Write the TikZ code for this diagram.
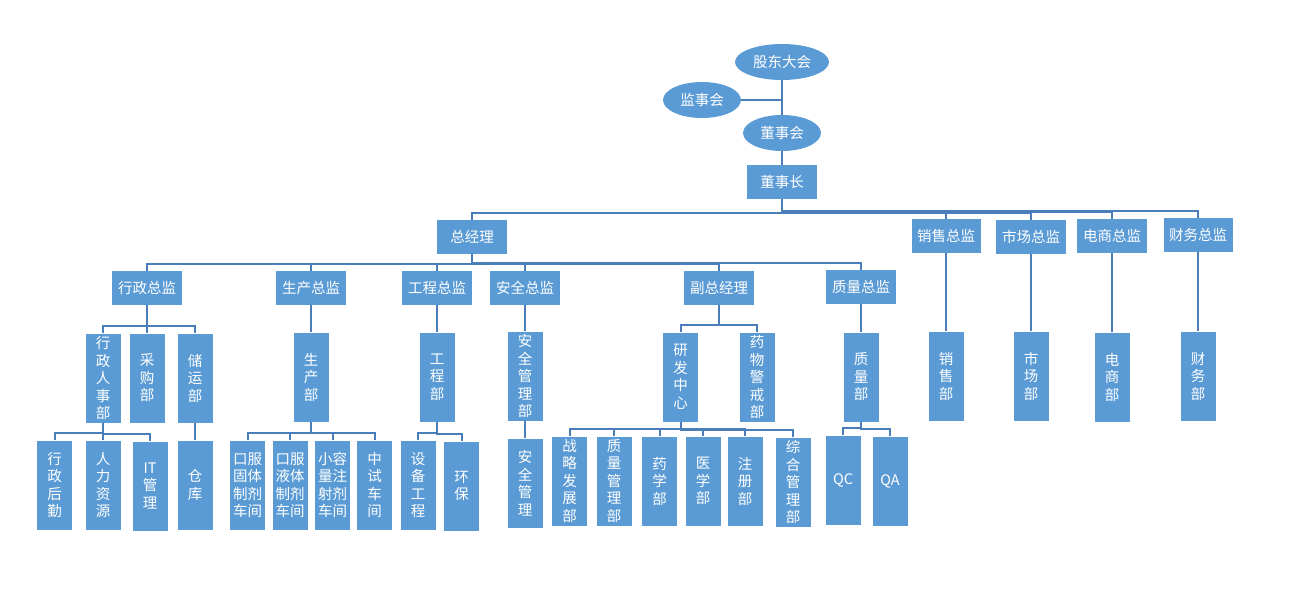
\documentclass[tikz,border=0pt]{standalone}
\usepackage{fontspec}
\newfontfamily\cjk{Noto Sans CJK SC}
\usetikzlibrary{shapes.geometric}
\definecolor{BoxClr}{RGB}{91,155,213}
\definecolor{LineClr}{RGB}{74,126,187}

\begin{document}
\begin{tikzpicture}[x=1pt,y=-1pt,
  Ell/.style={ellipse,fill=BoxClr,text=white,inner sep=0pt,minimum height=36pt,font=\cjk\fontsize{14.5}{17.5}\selectfont},
  Head/.style={rectangle,fill=BoxClr,text=white,inner sep=0pt,minimum width=70pt,minimum height=34pt,font=\cjk\fontsize{14.5}{17.5}\selectfont},
  Col/.style={Head,minimum width=35pt,minimum height=89pt,align=center},
  Link/.style={draw=LineClr,line width=2pt}]
\useasboundingbox (0,0) rectangle (1292,592);

\node[Ell,minimum width=94pt] (GDDH) at (782,62) {股东大会};
\node[Ell,minimum width=78pt] (JSH) at (702,100) {监事会};
\node[Ell,minimum width=78pt] (DSH) at (782,133) {董事会};
\node[Head] (DSZ) at (782,182) {董事长};

\node[Head] (ZJL) at (472,237) {总经理};
\node[Head,minimum width=69pt] (XSZJ) at (946,236) {销售总监};
\node[Head] (MKZJ) at (1031,237) {市场总监};
\node[Head] (DSZJ) at (1112,236) {电商总监};
\node[Head,minimum width=69pt] (CWZJ) at (1198,235) {财务总监};

\node[Head] (XZZJ) at (147,288) {行政总监};
\node[Head] (SCZJ) at (311,288) {生产总监};
\node[Head] (GCZJ) at (437,288) {工程总监};
\node[Head] (AQZJ) at (525,288) {安全总监};
\node[Head] (FZJL) at (719,288) {副总经理};
\node[Head] (ZLZJ) at (861,287) {质量总监};

\node[Col] (XZRS) at (103,378) {行\\政\\人\\事\\部};
\node[Col] (CGB) at (147,378) {采\\购\\部};
\node[Col] (CYB) at (195,378) {储\\运\\部};
\node[Col] (SCB) at (311,377) {生\\产\\部};
\node[Col] (GCB) at (437,377) {工\\程\\部};
\node[Col] (AQGLB) at (525,376) {安\\全\\管\\理\\部};
\node[Col] (YFZX) at (680.5,377) {研\\发\\中\\心};
\node[Col] (YWJJ) at (757,377) {药\\物\\警\\戒\\部};
\node[Col] (ZLB) at (861,377) {质\\量\\部};
\node[Col] (XSB) at (946,376) {销\\售\\部};
\node[Col] (MKB) at (1031,376) {市\\场\\部};
\node[Col] (DSB) at (1112,377) {电\\商\\部};
\node[Col] (CWB) at (1198,376) {财\\务\\部};

\node[Col] (XZHQ) at (54.5,485) {行\\政\\后\\勤};
\node[Col] (RLZY) at (103,485) {人\\力\\资\\源};
\node[Col] (ITGL) at (150,486) {IT\\管\\理};
\node[Col] (CK) at (195,485) {仓\\库};
\node[Col] (KFGT) at (247.5,485) {口服\\固体\\制剂\\车间};
\node[Col] (KFYT) at (290,485) {口服\\液体\\制剂\\车间};
\node[Col] (XRL) at (332.5,485) {小容\\量注\\射剂\\车间};
\node[Col] (ZSCJ) at (374.5,485) {中\\试\\车\\间};
\node[Col] (SBGC) at (418,485) {设\\备\\工\\程};
\node[Col] (HB) at (461.5,486) {环\\保};
\node[Col] (AQGL) at (525,483) {安\\全\\管\\理};
\node[Col] (ZLFZ) at (569.5,481) {战\\略\\发\\展\\部};
\node[Col] (ZLGL) at (614,481) {质\\量\\管\\理\\部};
\node[Col] (YXB) at (659.5,481) {药\\学\\部};
\node[Col] (YIXB) at (703,481) {医\\学\\部};
\node[Col] (ZCB) at (745,481) {注\\册\\部};
\node[Col] (ZHGL) at (793,482) {综\\合\\管\\理\\部};
\node[Col] (QC) at (843,480) {QC};
\node[Col] (QA) at (890,481) {QA};

\draw[Link] (GDDH) -- (DSH);
\draw[Link] (JSH) -- (JSH -| GDDH);
\draw[Link] (DSH) -- (DSZ);

\foreach \p/\c in {DSZ/ZJL,DSZ/XSZJ,DSZ/MKZJ,DSZ/DSZJ,DSZ/CWZJ,
  ZJL/XZZJ,ZJL/SCZJ,ZJL/GCZJ,ZJL/AQZJ,ZJL/FZJL,ZJL/ZLZJ,
  XZZJ/XZRS,XZZJ/CGB,XZZJ/CYB,SCZJ/SCB,GCZJ/GCB,AQZJ/AQGLB,FZJL/YFZX,FZJL/YWJJ,
  ZLZJ/ZLB,XSZJ/XSB,MKZJ/MKB,DSZJ/DSB,CWZJ/CWB,
  XZRS/XZHQ,XZRS/RLZY,XZRS/ITGL,CYB/CK,SCB/KFGT,SCB/KFYT,SCB/XRL,SCB/ZSCJ,
  GCB/SBGC,GCB/HB,AQGLB/AQGL,YFZX/ZLFZ,YFZX/ZLGL,YFZX/YXB,YFZX/YIXB,YFZX/ZCB,
  YFZX/ZHGL,ZLB/QC,ZLB/QA}
  \draw[Link] (\c.north) -- ++(0,-7) -| (\p.south);

\end{tikzpicture}
\end{document}
